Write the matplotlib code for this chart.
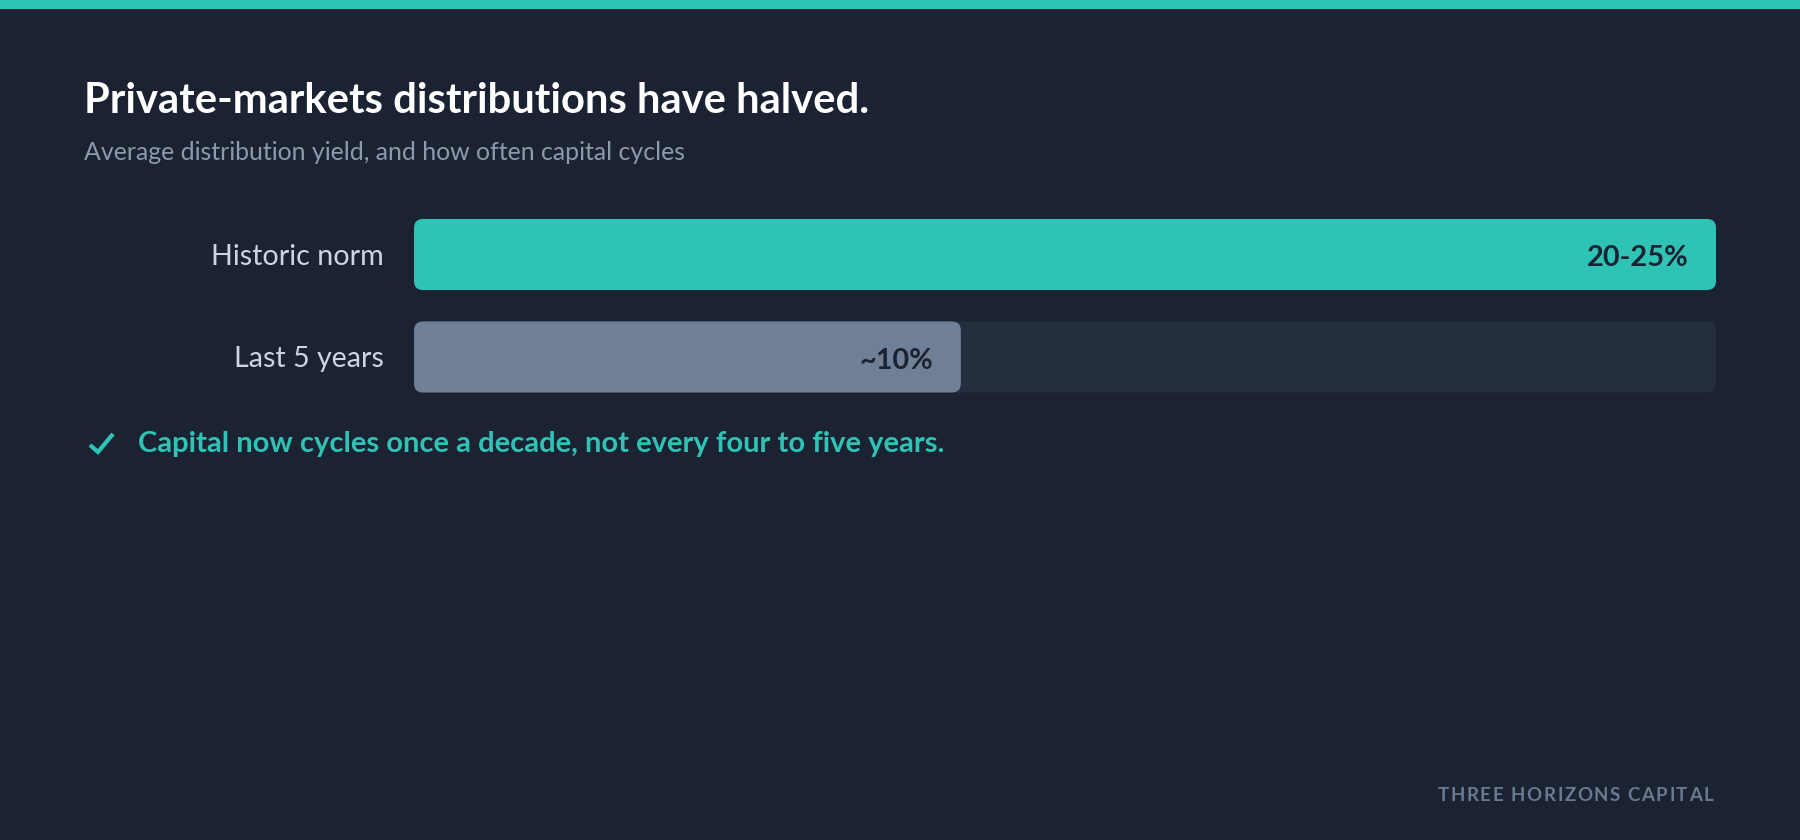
import matplotlib
matplotlib.use("Agg")
import matplotlib.pyplot as plt
from matplotlib.patches import FancyBboxPatch, Rectangle
from matplotlib.lines import Line2D

# ---- data ----
categories = ["Historic norm", "Last 5 years"]
values = [25.0, 10.5]          # distribution yield, % (historic bar drawn at upper bound)
value_labels = ["20-25%", "~10%"]
axis_max = 25.0
title = "Private-markets distributions have halved."
subtitle = "Average distribution yield, and how often capital cycles"
note = "Capital now cycles once a decade, not every four to five years."
footer = "THREE HORIZONS CAPITAL"

# ---- style ----
BG = "#1b2333"
TEAL = "#2fc3b6"
GRAY = "#6f7f96"
TRACK = "#252e3e"
LABEL = "#cdd5e0"
SUB = "#8d9aad"
FOOT = "#6a7a91"
DARK = "#1b2333"
FONT = "Lato"

W, H = 1800, 840
fig = plt.figure(figsize=(W / 100, H / 100), dpi=100, facecolor=BG)

# top accent stripe
fig.patches.append(Rectangle((0, 1 - 9 / H), 1, 9 / H, transform=fig.transFigure,
                             facecolor=TEAL, edgecolor="none"))

fig.text(84 / W, 1 - 113 / H, title, family=FONT, weight="bold", size=30.1,
         color="white", va="baseline", ha="left")
fig.text(84 / W, 1 - 160 / H, subtitle, family=FONT, size=17.9,
         color=SUB, va="baseline", ha="left")

# ---- bar axes ----
ax_left, ax_width = 414 / W, 1302 / W
ax_top_px, ax_h_px = 203.25, 205.0
ax = fig.add_axes([ax_left, 1 - (ax_top_px + ax_h_px) / H, ax_width, ax_h_px / H])
ax.set_facecolor("none")
ax.set_xlim(0, axis_max)
ax.set_ylim(-0.5, 1.5)
for s in ax.spines.values():
    s.set_visible(False)
ax.set_xticks([])

n = len(categories)
ypos = [n - 1 - i for i in range(n)]
bar_h = 0.693

ax.set_yticks(ypos)
ax.set_yticklabels(categories, family=FONT, size=20.6, color=LABEL)
ax.tick_params(axis="y", length=0, pad=22)

px_per_x = 1302 / axis_max
px_per_y = ax_h_px / 2.0
radius_px = 9
rx = radius_px / px_per_x
aspect = px_per_x / px_per_y

colors = [TEAL, GRAY]
for i, (y, v) in enumerate(zip(ypos, values)):
    ax.add_patch(FancyBboxPatch((0, y - bar_h / 2), axis_max, bar_h,
                                boxstyle=f"round,pad=0,rounding_size={rx}",
                                mutation_aspect=aspect,
                                facecolor=TRACK, edgecolor="none", zorder=1))
    ax.add_patch(FancyBboxPatch((0, y - bar_h / 2), v, bar_h,
                                boxstyle=f"round,pad=0,rounding_size={rx}",
                                mutation_aspect=aspect,
                                facecolor=colors[i], edgecolor="none", zorder=2))
    ax.annotate(value_labels[i], xy=(v, y), xytext=(-20, -8.6),
                textcoords="offset points", ha="right", va="baseline",
                family=FONT, weight="bold", size=20.8, color=DARK, zorder=3)

# ---- note with check icon ----
chk_x = [90, 98, 113]
chk_y = [445, 452, 434]
fig.add_artist(Line2D([x / W for x in chk_x], [1 - y / H for y in chk_y],
                      transform=fig.transFigure, color=TEAL, linewidth=3.0,
                      solid_capstyle="butt", solid_joinstyle="miter"))
fig.text(138 / W, 1 - 452 / H, note, family=FONT, weight="bold", size=21.0,
         color=TEAL, va="baseline", ha="left")

# ---- footer with letter spacing ----
renderer = fig.canvas.get_renderer()
fsize = 13.4
spacing_px = 1.6
widths = []
for ch in footer:
    t = fig.text(0, 0, "", family=FONT, weight="bold", size=fsize)
    if ch == " ":
        t.set_text("I I")
        w3 = t.get_window_extent(renderer).width
        t.set_text("II")
        w2 = t.get_window_extent(renderer).width
        widths.append(w3 - w2)
    else:
        t.set_text(ch)
        widths.append(t.get_window_extent(renderer).width)
    t.remove()
total = sum(widths) + spacing_px * (len(footer) - 1)
x = 1713 - total
for ch, w in zip(footer, widths):
    if ch != " ":
        fig.text(x / W, 1 - 801 / H, ch, family=FONT, weight="bold", size=fsize,
                 color=FOOT, va="baseline", ha="left")
    x += w + spacing_px

fig.savefig("out.png", dpi=100, facecolor=BG)
